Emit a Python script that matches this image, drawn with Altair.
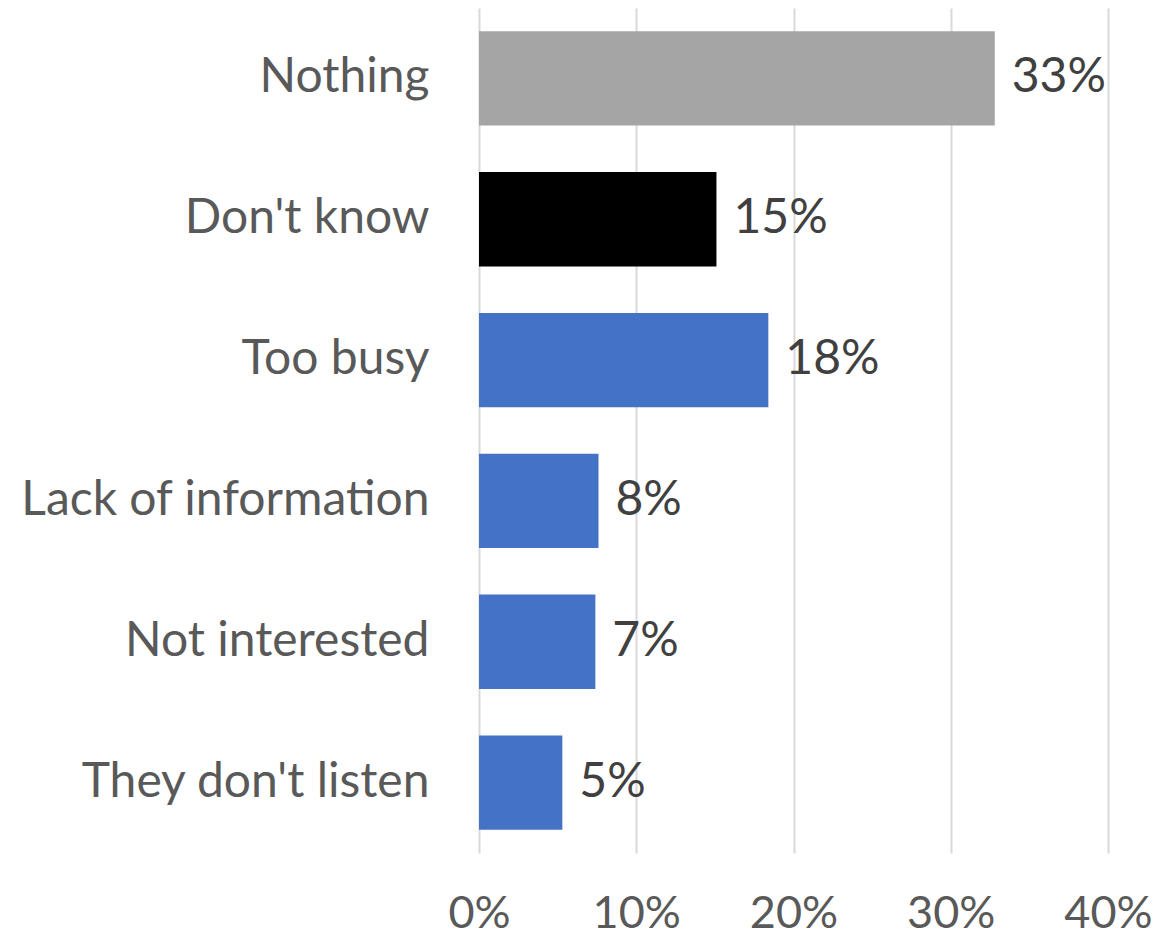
import altair as alt
import pandas as pd

categories = ["Nothing", "Don't know", "Too busy", "Lack of information", "Not interested", "They don't listen"]
values = [0.328, 0.151, 0.184, 0.076, 0.074, 0.053]
labels = ["33%", "15%", "18%", "8%", "7%", "5%"]
colors = ["#A5A5A5", "#000000", "#4472C4", "#4472C4", "#4472C4", "#4472C4"]

df = pd.DataFrame({"cat": categories, "val": values, "lab": labels, "col": colors})

FONT = "Lato"
FS = 48

base = alt.Chart(df).encode(
    y=alt.Y("cat:N", sort=categories, title=None,
            scale=alt.Scale(paddingInner=0.33, paddingOuter=0.165),
            axis=alt.Axis(labelFontSize=FS, labelColor="#595959", labelFont=FONT,
                          labelPadding=50, ticks=False, domain=False, labelLimit=0)),
)

bars = base.mark_bar().encode(
    x=alt.X("val:Q", title=None,
            scale=alt.Scale(domain=[0, 0.4], nice=False),
            axis=alt.Axis(format="%", values=[0, 0.1, 0.2, 0.3, 0.4], labelFontSize=45,
                          labelColor="#595959", labelFont=FONT, labelPadding=38,
                          ticks=False, domain=False, grid=True, gridColor="#D9D9D9",
                          gridWidth=2, labelFlush=False)),
    color=alt.Color("col:N", scale=None),
)

text = base.mark_text(align="left", dx=17, fontSize=FS, font=FONT, color="#404040").encode(
    x="val:Q",
    text="lab:N",
)

chart = (bars + text).properties(
    width=629, height=845,
    autosize=alt.AutoSizeParams(type="none"),
    padding={"left": 471, "top": 0, "right": 45, "bottom": 88},
).configure(background="white").configure_view(stroke=None)

chart.save("out.html", embed_options={"renderer": "svg", "actions": False})
